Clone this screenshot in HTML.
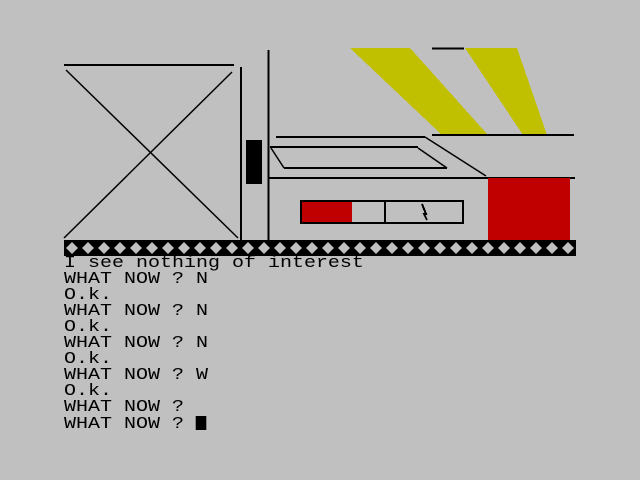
<!DOCTYPE html>
<html><head><style>
html,body{margin:0;padding:0;background:#c0c0c0;width:640px;height:480px;overflow:hidden}
.t{position:absolute;left:64px;font-family:"Liberation Mono",monospace;font-size:17px;line-height:16px;white-space:pre;transform:scaleX(1.176);transform-origin:0 0;color:#000}
</style></head><body>
<svg width="640" height="480" style="position:absolute;left:0;top:0" shape-rendering="crispEdges">
<polygon points="350,48 410,48 488,135 442,135" fill="#c0c000"/>
<polygon points="465,48 517,48 547,135 523,135" fill="#c0c000"/>
<line x1="432" y1="48.5" x2="464" y2="48.5" stroke="#000" stroke-width="2"/>
<line x1="432" y1="135" x2="574" y2="135" stroke="#000" stroke-width="2"/>
<line x1="64" y1="65" x2="234" y2="65" stroke="#000" stroke-width="2"/>
<line x1="241" y1="67" x2="241" y2="240" stroke="#000" stroke-width="2"/>
<line x1="66" y1="70" x2="238" y2="238" stroke="#000" stroke-width="1.5" shape-rendering="auto"/>
<line x1="232" y1="72" x2="64" y2="238" stroke="#000" stroke-width="1.5" shape-rendering="auto"/>
<line x1="268.5" y1="50" x2="268.5" y2="240" stroke="#000" stroke-width="2"/>
<rect x="246" y="140" width="16" height="44" fill="#000"/>
<line x1="276" y1="137" x2="425" y2="137" stroke="#000" stroke-width="2"/>
<line x1="270" y1="147" x2="418" y2="147" stroke="#000" stroke-width="2"/>
<line x1="284" y1="168" x2="447" y2="168" stroke="#000" stroke-width="2"/>
<line x1="271" y1="148" x2="284" y2="168" stroke="#000" stroke-width="1.5" shape-rendering="auto"/>
<line x1="418" y1="148" x2="447" y2="168" stroke="#000" stroke-width="1.5" shape-rendering="auto"/>
<line x1="425" y1="137" x2="486" y2="176" stroke="#000" stroke-width="1.5" shape-rendering="auto"/>
<line x1="269" y1="178" x2="575" y2="178" stroke="#000" stroke-width="2"/>
<rect x="488" y="178" width="82" height="62" fill="#c00000"/>
<rect x="300" y="200" width="52" height="24" fill="#c00000"/>
<rect x="301" y="201" width="162" height="22" fill="none" stroke="#000" stroke-width="2"/>
<line x1="385" y1="202" x2="385" y2="222" stroke="#000" stroke-width="2"/>
<path d="M422 204 L426 214 L424 214 L427 220" stroke="#000" stroke-width="2" fill="none"/>
<rect x="64" y="240" width="512" height="16" fill="#000"/>
</svg>
<svg width="640" height="480" style="position:absolute;left:0;top:0">
<defs><polygon id="dm" points="8,242 14,248 8,254 2,248" fill="#c0c0c0"/></defs>
<g transform="translate(64,0)"><use href="#dm" x="0"/><use href="#dm" x="16"/><use href="#dm" x="32"/><use href="#dm" x="48"/><use href="#dm" x="64"/><use href="#dm" x="80"/><use href="#dm" x="96"/><use href="#dm" x="112"/><use href="#dm" x="128"/><use href="#dm" x="144"/><use href="#dm" x="160"/><use href="#dm" x="176"/><use href="#dm" x="192"/><use href="#dm" x="208"/><use href="#dm" x="224"/><use href="#dm" x="240"/><use href="#dm" x="256"/><use href="#dm" x="272"/><use href="#dm" x="288"/><use href="#dm" x="304"/><use href="#dm" x="320"/><use href="#dm" x="336"/><use href="#dm" x="352"/><use href="#dm" x="368"/><use href="#dm" x="384"/><use href="#dm" x="400"/><use href="#dm" x="416"/><use href="#dm" x="432"/><use href="#dm" x="448"/><use href="#dm" x="464"/><use href="#dm" x="480"/><use href="#dm" x="496"/></g>
</svg>
<div class="t" style="top:256px">I see nothing of interest
WHAT NOW ? N
O.k.
WHAT NOW ? N
O.k.
WHAT NOW ? N
O.k.
WHAT NOW ? W
O.k.
WHAT NOW ?
WHAT NOW ? <span style="display:inline-block;width:8.5px;height:14px;background:#000;vertical-align:-2px"></span></div>
</body></html>
